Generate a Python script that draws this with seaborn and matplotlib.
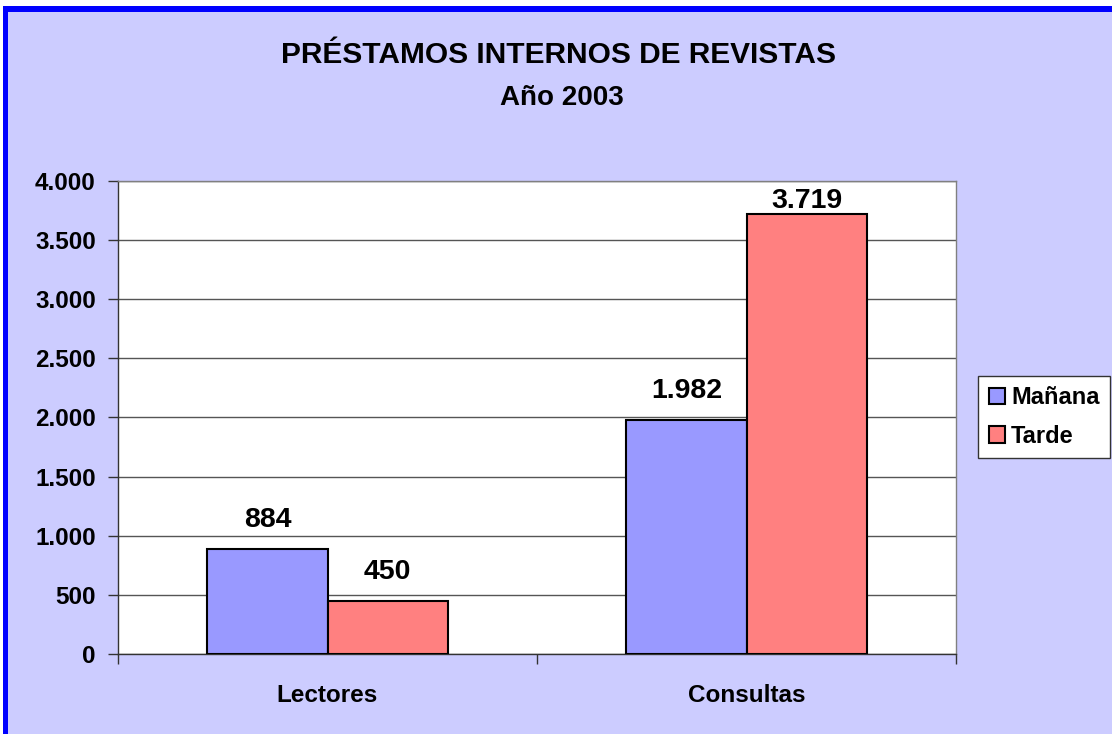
import pandas as pd
import matplotlib.pyplot as plt
import seaborn as sns
from matplotlib.patches import Rectangle
from matplotlib.ticker import FuncFormatter

categorias = ["Lectores", "Consultas"]
turnos = ["Mañana", "Tarde"]
manana = [884, 1982]
tarde = [450, 3719]

df = pd.DataFrame({
    "categoria": categorias * 2,
    "turno": [turnos[0]] * 2 + [turnos[1]] * 2,
    "valor": manana + tarde,
})

sns.set_theme(style="white")
plt.rcParams['font.family'] = ['Liberation Sans', 'DejaVu Sans']
plt.rcParams['text.color'] = 'black'
plt.rcParams['xtick.labelcolor'] = 'black'
plt.rcParams['ytick.labelcolor'] = 'black'

W, H = 1112, 734
fig = plt.figure(figsize=(W / 100, H / 100), dpi=100)
fig.patch.set_facecolor('#CCCCFF')

# white margin + blue frame on top and left
fig.patches.append(Rectangle((0, 1 - 6 / H), 1, 6 / H, transform=fig.transFigure, facecolor='white', edgecolor='none', zorder=0))
fig.patches.append(Rectangle((0, 0), 3 / W, 1, transform=fig.transFigure, facecolor='white', edgecolor='none', zorder=0))
fig.patches.append(Rectangle((3 / W, 1 - 12 / H), 1, 6 / H, transform=fig.transFigure, facecolor='#0000FF', edgecolor='none', zorder=1))
fig.patches.append(Rectangle((3 / W, 0), 5 / W, 1 - 6 / H, transform=fig.transFigure, facecolor='#0000FF', edgecolor='none', zorder=1))

ax = fig.add_axes([118 / W, 1 - 654 / H, (956 - 118) / W, (654 - 181) / H])
ax.set_facecolor('white')

sns.barplot(data=df, x='categoria', y='valor', hue='turno', order=categorias, hue_order=turnos,
            palette=['#9999FF', '#FF8080'], edgecolor='black', linewidth=1.5, width=0.573,
            saturation=1, ax=ax, legend=True, zorder=3)

ax.set_ylim(0, 4000)
ax.set_xlim(-0.5, 1.5)
ax.set_yticks(range(0, 4001, 500))
fmt = lambda v: f"{int(v):,}".replace(",", ".")
ax.yaxis.set_major_formatter(FuncFormatter(lambda v, p: fmt(v)))
ax.grid(axis='y', color='#555555', linewidth=1, zorder=0)
ax.set_axisbelow(True)
for s in ax.spines.values():
    s.set_color('#808080')
    s.set_linewidth(1)
ax.spines['left'].set_color('#333333')
ax.spines['bottom'].set_color('#333333')
ax.set_xlabel('')
ax.set_ylabel('')

ax.tick_params(axis='y', which='major', left=True, length=7, width=1, color='#333333', labelsize=17.5, pad=9)
ax.tick_params(axis='x', which='major', bottom=False, labelsize=17.5, pad=15.5)
ax.set_xticks([-0.5, 0.5, 1.5], minor=True)
ax.tick_params(axis='x', which='minor', bottom=True, length=7, width=1, color='#333333')
for lbl in ax.get_xticklabels() + ax.get_yticklabels():
    lbl.set_fontweight('bold')

# value labels: 22 px above the bar, but kept inside the plot area (like Excel)
top_px = ax.transData.transform((0, 4000))[1]
for cont in ax.containers:
    for bar, v in zip(cont, cont.datavalues):
        bar_px = ax.transData.transform((0, v))[1]
        gap = min(22, top_px - bar_px - 27)
        ax.annotate(fmt(v), xy=(bar.get_x() + bar.get_width() / 2, v), xytext=(0, gap * 0.72),
                    textcoords='offset points', ha='center', va='baseline',
                    fontsize=20.5, fontweight='bold')

fig.text(0.502, 1 - 63 / H, "PRÉSTAMOS INTERNOS DE REVISTAS", ha='center', va='baseline', fontsize=21.5, fontweight='bold')
fig.text(0.505, 1 - 105 / H, "Año 2003", ha='center', va='baseline', fontsize=20, fontweight='bold')

leg = ax.legend(loc='center left', bbox_to_anchor=(978 / W, 1 - 417 / H), bbox_transform=fig.transFigure,
                frameon=True, fancybox=False, edgecolor='#333333', fontsize=17, handlelength=0.7, handleheight=0.7,
                handletextpad=0.25, borderpad=0.45, labelspacing=0.65, borderaxespad=0)
leg.get_frame().set_linewidth(1)
leg.get_frame().set_facecolor('white')
leg.get_frame().set_alpha(1)
for t in leg.get_texts():
    t.set_fontweight('bold')

fig.savefig('out.png', dpi=100, facecolor=fig.get_facecolor())
